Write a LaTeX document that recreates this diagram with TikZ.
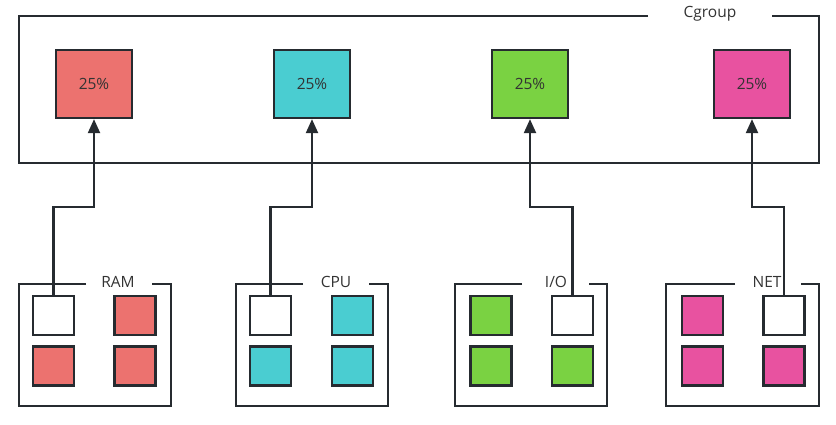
\documentclass[tikz,border=0pt]{standalone}
\usepackage{fontspec}
\setmainfont{Open Sans}
\usetikzlibrary{arrows.meta}
\definecolor{cred}{RGB}{236,114,111}
\definecolor{ccyan}{RGB}{74,205,209}
\definecolor{cgreen}{RGB}{122,210,66}
\definecolor{cpink}{RGB}{232,82,160}
\definecolor{cline}{RGB}{38,43,48}
\definecolor{ctext}{RGB}{51,51,51}
\tikzset{
  pct/.style={draw=cline, line width=2.3pt, minimum width=76pt, minimum height=68pt, inner sep=0pt, font=\fontsize{15.5}{18}\selectfont, text=ctext},
  cell/.style={draw=cline, line width=2.3pt, minimum width=41pt, minimum height=39pt, inner sep=0pt},
  frame/.style={draw=cline, line width=2.3pt},
  lbl/.style={font=\fontsize{15.5}{18}\selectfont, text=ctext, inner sep=0pt},
  conn/.style={draw=cline, line width=2.2pt, -{Triangle[width=12pt,length=14pt]}}
}
\begin{document}
\begin{tikzpicture}[x=1pt,y=-1pt]
\useasboundingbox (0,0) rectangle (836,425);
% Cgroup frame
\draw[frame] (648,16) -- (19,16) -- (19,163) -- (819,163) -- (819,16) -- (772,16);
\node[lbl] (cg) at (710,14) {Cgroup};
% top boxes
\node[pct, fill=cred] (r25) at (94,84) {25\%};
\node[pct, fill=ccyan] (c25) at (312,84) {25\%};
\node[pct, fill=cgreen] (g25) at (530,84) {25\%};
\node[pct, fill=cpink] (p25) at (752,84) {25\%};
% group frames
\draw[frame] (86,284) -- (19,284) -- (19,406) -- (171,406) -- (171,284) -- (152,284);
\node[lbl] (ram) at (118,282) {RAM};
\draw[frame] (303,284) -- (236,284) -- (236,406) -- (388,406) -- (388,284) -- (369,284);
\node[lbl] (cpu) at (336,282) {CPU};
\draw[frame] (522,284) -- (455,284) -- (455,406) -- (607,406) -- (607,284) -- (589,284);
\node[lbl] (io) at (556,282) {I/O};
\draw[frame] (735,284) -- (666,284) -- (666,406) -- (819,406) -- (819,284) -- (801,284);
\node[lbl] (net) at (767,282) {NET};
% RAM cells
\node[cell, fill=white] (ram1) at (53.5,315.5) {};
\node[cell, fill=cred] (ram2) at (135,315.5) {};
\node[cell, fill=cred] (ram3) at (53.5,366) {};
\node[cell, fill=cred] (ram4) at (135,366) {};
% CPU cells
\node[cell, fill=white] (cpu1) at (270.5,315.5) {};
\node[cell, fill=ccyan] (cpu2) at (352.5,315.5) {};
\node[cell, fill=ccyan] (cpu3) at (270.5,366) {};
\node[cell, fill=ccyan] (cpu4) at (352.5,366) {};
% IO cells
\node[cell, fill=cgreen] (io1) at (491,315.5) {};
\node[cell, fill=white] (io2) at (572.5,315.5) {};
\node[cell, fill=cgreen] (io3) at (491,366) {};
\node[cell, fill=cgreen] (io4) at (572.5,366) {};
% NET cells
\node[cell, fill=cpink] (net1) at (702.5,315.5) {};
\node[cell, fill=white] (net2) at (784,315.5) {};
\node[cell, fill=cpink] (net3) at (702.5,366) {};
\node[cell, fill=cpink] (net4) at (784,366) {};
% connectors
\coordinate (b1) at (ram1.north |- 0,207);
\coordinate (b2) at (cpu1.north |- 0,207);
\coordinate (b3) at (io2.north |- 0,207);
\coordinate (b4) at (net2.north |- 0,207);
\draw[conn] (ram1.north) -- (b1) -| (r25.south);
\draw[conn] (cpu1.north) -- (b2) -| (c25.south);
\draw[conn] (io2.north) -- (b3) -| (g25.south);
\draw[conn] (net2.north) -- (b4) -| (p25.south);
\end{tikzpicture}
\end{document}
